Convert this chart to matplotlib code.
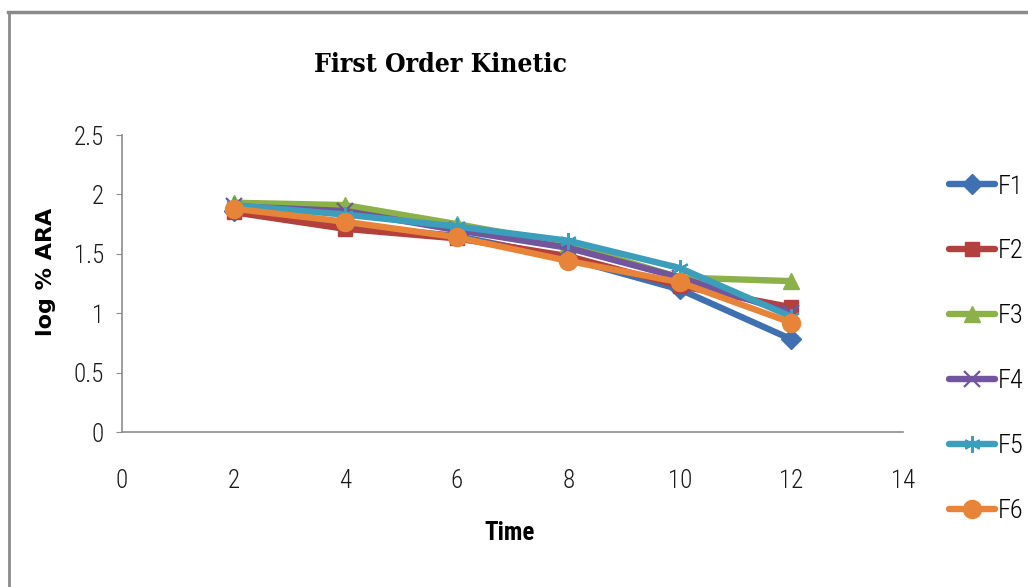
import matplotlib
matplotlib.use("Agg")
import matplotlib.pyplot as plt
from matplotlib.lines import Line2D

# Data
time = [2, 4, 6, 8, 10, 12]
series_names = ["F1", "F2", "F3", "F4", "F5", "F6"]
f1 = [1.86, 1.74, 1.65, 1.46, 1.20, 0.78]
f2 = [1.85, 1.71, 1.63, 1.48, 1.23, 1.05]
f3 = [1.93, 1.91, 1.75, 1.58, 1.30, 1.27]
f4 = [1.90, 1.86, 1.70, 1.55, 1.30, 1.00]
f5 = [1.91, 1.83, 1.73, 1.61, 1.38, 0.97]
f6 = [1.88, 1.77, 1.64, 1.44, 1.26, 0.92]
values = [f1, f2, f3, f4, f5, f6]
x_ticks = [0, 2, 4, 6, 8, 10, 12, 14]
y_ticks = [0, 0.5, 1, 1.5, 2, 2.5]
y_tick_labels = ["0", "0.5", "1", "1.5", "2", "2.5"]

colors = ["#3F70B2", "#B2403D", "#8CB04A", "#72559C", "#3C9EBA", "#E8833A"]
markers = ["D", "s", "^", "x", (6, 2, 0), "o"]
msizes = [10, 10, 11, 11, 12, 13]

narrow = "Roboto Condensed"

fig = plt.figure(figsize=(10.28, 5.87), dpi=100)
ax = fig.add_axes([122 / 1028, 1 - 432 / 587, (903 - 122) / 1028, (432 - 135) / 587])

for name, vals, c, m, ms in zip(series_names, values, colors, markers, msizes):
    thin = m == "x" or isinstance(m, tuple)
    ax.plot(time, vals, color=c, lw=4.6, marker=m, ms=ms,
            mew=1.6 if thin else 1, mec=c, mfc=c, label=name,
            solid_joinstyle="round", solid_capstyle="round")

ax.set_xlim(0, 14)
ax.set_ylim(0, 2.5)
ax.set_xticks(x_ticks)
ax.set_yticks(y_ticks)
ax.set_yticklabels(y_tick_labels)
for s in ("top", "right"):
    ax.spines[s].set_visible(False)
for s in ("left", "bottom"):
    ax.spines[s].set_color("#8C8C8C")
    ax.spines[s].set_linewidth(1.2)
ax.tick_params(axis="y", length=4, color="#8C8C8C", pad=9, labelsize=18)
ax.tick_params(axis="x", length=0, pad=27, labelsize=18)
for lab in ax.get_xticklabels() + ax.get_yticklabels():
    lab.set_fontfamily(narrow)
    lab.set_fontweight(300)
    lab.set_color("#1a1a1a")

ax.set_xlabel("Time", fontfamily=narrow, fontweight="bold", fontsize=18)
ax.xaxis.set_label_coords((510 - 122) / 781, -(533 - 432) / 297)
ax.set_ylabel("log % ARA", fontfamily="DejaVu Sans", fontweight="bold", fontsize=16)
ax.yaxis.set_label_coords((46 - 122) / 781, (432 - 272) / 297)
ax.xaxis.label.set_va("center")
ax.yaxis.label.set_va("center")

fig.text(440 / 1028, 1 - 64 / 587, "First Order Kinetic", ha="center", va="center",
         fontfamily="DejaVu Serif", fontstretch="condensed", fontweight="bold", fontsize=19)

leg = fig.legend(loc="upper left", bbox_to_anchor=(938 / 1028, 1 - 164 / 587),
                 frameon=False, fontsize=19, handlelength=1.75, handletextpad=0.1,
                 labelspacing=1.55, borderaxespad=0)
for t in leg.get_texts():
    t.set_fontfamily(narrow)
    t.set_fontweight(300)

# Outer frame lines
fig.add_artist(Line2D([8 / 1028, 1.0], [1 - 12 / 587] * 2, transform=fig.transFigure,
                      color="#8A8A8A", lw=2.5))
fig.add_artist(Line2D([9 / 1028] * 2, [0, 1 - 12 / 587], transform=fig.transFigure,
                      color="#8A8A8A", lw=2.0))

fig.savefig("out.png", dpi=100)
